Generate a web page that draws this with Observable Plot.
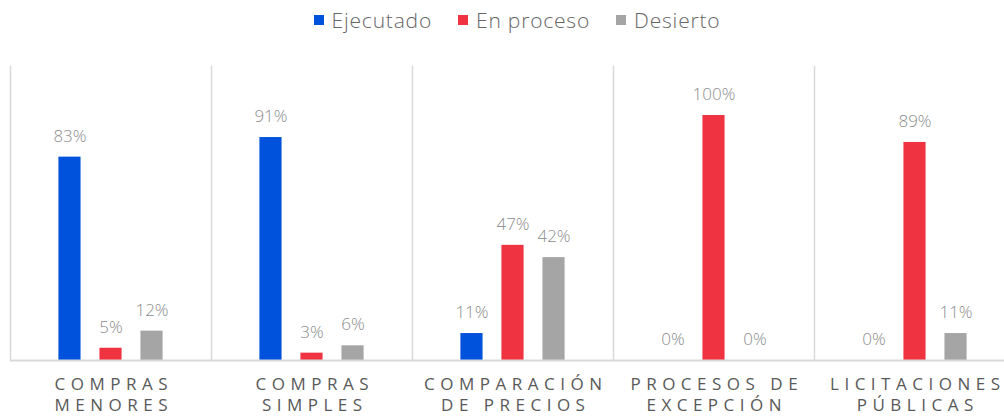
<!DOCTYPE html>
<html>
<head>
<meta charset="utf-8">
<script src="https://cdn.jsdelivr.net/npm/d3@7"></script>
<script src="https://cdn.jsdelivr.net/npm/@observablehq/plot@0.6"></script>
<style>
  html, body { margin: 0; padding: 0; background: #fff; overflow: hidden; }
  #wrap { position: relative; width: 1004px; height: 416px; font-family: "Open Sans", "Noto Sans", sans-serif; }
  #legend { position: absolute; left: 15px; top: 0; width: 1004px; height: 40px; display: flex; justify-content: center; align-items: center; gap: 0; font-size: 21px; letter-spacing: 0.8px; color: #666; font-weight: 300; }
  .item { display: flex; align-items: center; margin: 0 13px; }
  .sw { width: 10px; height: 10px; margin-right: 8px; }
  #chart { position: absolute; left: 0; top: 0; }
  #chart svg { overflow: hidden; }
  #chart g[aria-label="fx-axis tick label"] { letter-spacing: 5.5px; }
</style>
</head>
<body>
<div id="wrap">
  <div id="chart"></div>
  <div id="legend"></div>
</div>
<script>
const categories = ["Compras menores", "Compras simples", "Comparación de precios", "Procesos de excepción", "Licitaciones públicas"];
const tickLabels = ["COMPRAS\nMENORES", "COMPRAS\nSIMPLES", "COMPARACIÓN\nDE PRECIOS", "PROCESOS DE\nEXCEPCIÓN", "LICITACIONES\nPÚBLICAS"];
const series = ["Ejecutado", "En proceso", "Desierto"];
const colors = ["#0051db", "#ef3340", "#a5a5a5"];
const ejecutado = [83, 91, 11, 0, 0];
const enProceso = [5, 3, 47, 100, 89];
const desierto = [12, 6, 42, 0, 11];

const values = [ejecutado, enProceso, desierto];
const data = [];
categories.forEach((c, i) => {
  series.forEach((s, j) => data.push({category: c, series: s, value: values[j][i]}));
});
const labelOf = new Map(categories.map((c, i) => [c, tickLabels[i]]));

const chart = Plot.plot({
  width: 1004,
  height: 416,
  marginTop: 66,
  marginBottom: 56,
  marginLeft: 10,
  marginRight: -11,
  style: {fontFamily: '"Open Sans", "Noto Sans", sans-serif', background: "#fff"},
  fx: {domain: categories, padding: 0, round: false},
  x: {domain: series, paddingInner: 0.46, paddingOuter: 1.18, round: false, axis: null},
  y: {domain: [0, 120], axis: null},
  color: {domain: series, range: colors},
  marks: [
    Plot.frame({anchor: "left", stroke: "#d9d9d9", strokeWidth: 1.5}),
    Plot.barY(data, {fx: "category", x: "series", y: "value", fill: "series"}),
    Plot.ruleY([0], {stroke: "#d9d9d9", strokeWidth: 2}),
    Plot.text(data, {fx: "category", x: "series", y: "value", text: d => d.value + "%", dy: -21, fill: "#8c8c8c", fontSize: 17, fontWeight: 300}),
    Plot.axisFx({anchor: "bottom", tickFormat: d => labelOf.get(d), tickSize: 0, tickPadding: 15, label: null, fontSize: 17, lineHeight: 1.22, fill: "#595959", dx: 2.75})
  ]
});
document.getElementById("chart").appendChild(chart);

const legend = document.getElementById("legend");
series.forEach((s, i) => {
  const it = document.createElement("div");
  it.className = "item";
  const sw = document.createElement("span");
  sw.className = "sw";
  sw.style.background = colors[i];
  const t = document.createElement("span");
  t.textContent = s;
  it.appendChild(sw);
  it.appendChild(t);
  legend.appendChild(it);
});
</script>
</body>
</html>
